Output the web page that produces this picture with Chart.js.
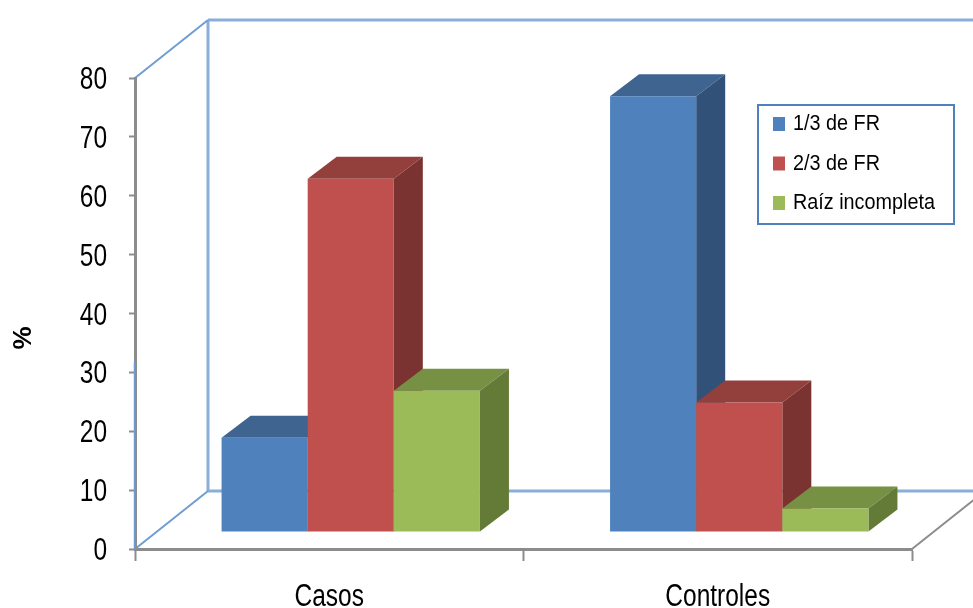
<!DOCTYPE html>
<html>
<head>
<meta charset="utf-8">
<style>
  html, body { margin: 0; padding: 0; background: #fff; overflow: hidden; }
  #wrap { width: 973px; height: 608px; }
</style>
<script src="https://cdn.jsdelivr.net/npm/chart.js@4"></script>
</head>
<body>
<div id="wrap"><canvas id="chart" width="973" height="608"></canvas></div>
<script>
const categories = ['Casos', 'Controles'];
const seriesNames = ['1/3 de FR', '2/3 de FR', 'Raíz incompleta'];
const thirdFr = [16, 74];
const twoThirdsFr = [60, 22];
const incompleteRoot = [24, 4];

const frontColors = ['#4f81bd', '#c0504d', '#9bbb59'];
const topColors = ['#3e648f', '#93403d', '#779144'];
const sideColors = ['#325178', '#7a3330', '#647a37'];

const FONT = '"Liberation Sans", Arial, sans-serif';
const WALL = '#8aaed8';
const AXIS = '#8c8c8c';

// how far the back wall sits behind the front plane
const WALL_DX = 73, WALL_DY = -58;
// bars stand in the middle of the floor
const BAR_DX = 21.5, BAR_DY = -17;
// depth of one bar
const BAR_DEPTH_X = 29, BAR_DEPTH_Y = -22;

function line(ctx, x1, y1, x2, y2, color, width) {
  ctx.strokeStyle = color;
  ctx.lineWidth = width;
  ctx.beginPath();
  ctx.moveTo(x1, y1);
  ctx.lineTo(x2, y2);
  ctx.stroke();
}

function poly(ctx, pts, color) {
  ctx.fillStyle = color;
  ctx.beginPath();
  pts.forEach((p, i) => i ? ctx.lineTo(p[0], p[1]) : ctx.moveTo(p[0], p[1]));
  ctx.closePath();
  ctx.fill();
}

// text squeezed sideways, there is no narrow face installed
function narrowText(ctx, text, x, y, squeeze, align) {
  ctx.save();
  ctx.translate(x, y);
  ctx.scale(squeeze, 1);
  ctx.textAlign = align;
  ctx.fillText(text, 0, 0);
  ctx.restore();
}

const box3d = {
  id: 'box3d',
  beforeDraw(chart) {
    const { ctx, chartArea: a } = chart;
    ctx.save();
    line(ctx, a.left + WALL_DX, a.top + WALL_DY, a.left + WALL_DX, a.bottom + WALL_DY, WALL, 3);
    line(ctx, a.left + WALL_DX, a.top + WALL_DY, 973, a.top + WALL_DY, WALL, 3);
    line(ctx, a.left + WALL_DX, a.bottom + WALL_DY, 973, a.bottom + WALL_DY, WALL, 3);
    line(ctx, a.left, a.top, a.left + WALL_DX, a.top + WALL_DY, '#6f9dd3', 2);
    line(ctx, a.left, a.bottom, a.left + WALL_DX, a.bottom + WALL_DY, '#6f9dd3', 2);
    line(ctx, a.right, a.bottom, a.right + WALL_DX, a.bottom + WALL_DY, AXIS, 2);
    ctx.restore();
  },
  // bars are painted here, first series first, so each one overlaps the depth of the previous
  beforeDatasetsDraw(chart) {
    const ctx = chart.ctx;
    ctx.save();
    ctx.translate(BAR_DX, BAR_DY);
    chart.data.datasets.forEach((ds, i) => {
      chart.getDatasetMeta(i).data.forEach(bar => {
        const { x, y, base, width } = bar.getProps(['x', 'y', 'base', 'width'], true);
        const l = x - width / 2, r = x + width / 2;
        poly(ctx, [[l, y], [l + BAR_DEPTH_X, y + BAR_DEPTH_Y], [r + BAR_DEPTH_X, y + BAR_DEPTH_Y], [r, y]], topColors[i]);
        poly(ctx, [[r, y], [r + BAR_DEPTH_X, y + BAR_DEPTH_Y], [r + BAR_DEPTH_X, base + BAR_DEPTH_Y], [r, base]], sideColors[i]);
        bar.draw(ctx);
      });
    });
    ctx.restore();
    return false;
  },
  afterDraw(chart) {
    const { ctx, chartArea: a, scales } = chart;

    // blue front edge of the side wall, over the lower part of the axis
    ctx.save();
    line(ctx, a.left - 0.5, 362, a.left - 0.5, a.bottom, '#6f9dd3', 1.5);
    ctx.restore();

    // tick labels
    ctx.save();
    ctx.fillStyle = '#000';
    ctx.font = '31px ' + FONT;
    ctx.textBaseline = 'alphabetic';
    scales.y.ticks.forEach(t => {
      narrowText(ctx, t.label, 107, scales.y.getPixelForValue(t.value) + 11, 0.79, 'right');
    });
    scales.x.ticks.forEach((t, i) => {
      narrowText(ctx, categories[i], scales.x.getPixelForTick(i), 606, 0.79, 'center');
    });
    ctx.restore();

    // y axis title
    ctx.save();
    ctx.translate(24, 338);
    ctx.rotate(-Math.PI / 2);
    ctx.fillStyle = '#000';
    ctx.font = 'bold 26px ' + FONT;
    ctx.textAlign = 'center';
    ctx.textBaseline = 'middle';
    ctx.fillText('%', 0, 0);
    ctx.restore();

    // legend box
    ctx.save();
    ctx.fillStyle = '#fff';
    ctx.fillRect(758, 105, 196, 119);
    ctx.strokeStyle = '#4f81bd';
    ctx.lineWidth = 2;
    ctx.strokeRect(758, 105, 196, 119);
    ctx.font = '22px ' + FONT;
    ctx.textBaseline = 'middle';
    chart.data.datasets.forEach((ds, i) => {
      const cy = 124 + i * 39.5;
      ctx.fillStyle = ds.backgroundColor;
      ctx.fillRect(773, cy - 7, 12, 14);
      ctx.fillStyle = '#000';
      narrowText(ctx, ds.label, 793, cy, 0.9, 'left');
    });
    ctx.restore();
  }
};

new Chart(document.getElementById('chart'), {
  type: 'bar',
  data: {
    labels: categories,
    datasets: [thirdFr, twoThirdsFr, incompleteRoot].map((values, i) => ({
      label: seriesNames[i],
      data: values,
      backgroundColor: frontColors[i],
      borderWidth: 0,
      barPercentage: 1,
      categoryPercentage: 0.665
    }))
  },
  options: {
    responsive: false,
    animation: false,
    layout: { padding: { top: 78, right: 61, bottom: 0, left: 0 } },
    plugins: { legend: { display: false }, tooltip: { enabled: false } },
    scales: {
      x: {
        afterFit(scale) { scale.height = 59; },
        border: { color: AXIS, width: 3 },
        grid: { offset: true, drawOnChartArea: false, tickLength: 12, tickColor: AXIS, tickWidth: 2 },
        ticks: { display: false }
      },
      y: {
        min: 0,
        max: 80,
        afterFit(scale) { scale.width = 135; },
        border: { color: AXIS, width: 3 },
        grid: { drawOnChartArea: false, tickLength: 6, tickColor: AXIS, tickWidth: 2 },
        ticks: { stepSize: 10, display: false }
      }
    }
  },
  plugins: [box3d]
});
</script>
</body>
</html>
